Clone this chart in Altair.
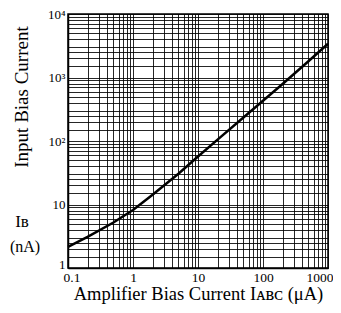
import altair as alt
import pandas as pd

# curve data
amp_current = [0.1, 0.2, 0.5, 1, 2, 5, 10, 20, 50, 100, 200, 500, 1000]
bias_current = [2.15, 3.1, 5.2, 8.2, 14.2, 30.5, 57, 105, 235, 430, 790, 1800, 3400]

x_grid = [0.1, 0.2, 0.3, 0.4, 0.5, 0.6, 0.7, 0.8, 0.9,
          1, 2, 3, 4, 5, 6, 7, 8, 9, 10, 20, 30, 40, 50, 60, 70, 80, 90,
          100, 200, 300, 400, 500, 600, 700, 800, 900, 1000]
y_grid = [1, 1.5, 2, 2.5, 3, 4, 5, 6, 7, 8, 9,
          10, 15, 20, 25, 30, 40, 50, 60, 70, 80, 90,
          100, 150, 200, 250, 300, 400, 500, 600, 700, 800, 900,
          1000, 1500, 2000, 2500, 3000, 4000, 5000, 6000, 7000, 8000, 9000, 10000]

FONT = "Liberation Serif"

df = pd.DataFrame({"x": amp_current, "y": bias_current})

x_label_expr = ("datum.value == 0.1 ? '0.1' : datum.value == 1 ? '1' : datum.value == 10 ? '10' : "
                "datum.value == 100 ? '100' : datum.value == 1000 ? '1000' : ''")
y_label_expr = ("datum.value == 1 ? '1' : datum.value == 10 ? '10' : datum.value == 100 ? '10²' : "
                "datum.value == 1000 ? '10³' : datum.value == 10000 ? '10⁴' : ''")

xscale = alt.Scale(type="log", domain=[0.1, 1000], nice=False)
yscale = alt.Scale(type="log", domain=[1, 10000], nice=False)

line = alt.Chart(df).mark_line(color="black", strokeWidth=2.5).encode(
    x=alt.X("x:Q", scale=xscale,
            axis=alt.Axis(values=x_grid, labelExpr=x_label_expr, grid=True,
                          gridColor="black", gridOpacity=0.85, gridWidth=1,
                          ticks=False, domainColor="black", domainWidth=1.5,
                          labelFont=FONT, labelFontSize=13.5, labelColor="black",
                          labelPadding=2, labelFlush=True, labelFlushOffset=5,
                          labelOverlap=False,
                          title="Amplifier Bias Current  Iᴀʙᴄ  (μA)",
                          titleFont=FONT, titleFontSize=18.5, titleFontWeight="normal",
                          titleColor="black", titlePadding=1)),
    y=alt.Y("y:Q", scale=yscale,
            axis=alt.Axis(values=y_grid, labelExpr=y_label_expr, grid=True,
                          gridColor="black", gridOpacity=0.85, gridWidth=1,
                          ticks=False, domainColor="black", domainWidth=1.5,
                          labelFont=FONT, labelFontSize=13, labelColor="black",
                          labelBaseline=alt.condition("datum.value == 1", alt.value("alphabetic"), alt.value("middle")),
                          labelPadding=3, labelFlush=False, labelOverlap=False, title=None)),
)

ytitle = alt.Chart(pd.DataFrame({"t": ["Input Bias Current"]})).mark_text(
    font=FONT, fontSize=19, angle=270, color="black", align="center", baseline="middle"
).encode(x=alt.value(-46), y=alt.value(83), text="t:N")

ib = alt.Chart(pd.DataFrame({"t": ["Iʙ"]})).mark_text(
    font=FONT, fontSize=17, color="black", align="center", baseline="middle"
).encode(x=alt.value(-46), y=alt.value(208), text="t:N")

na = alt.Chart(pd.DataFrame({"t": ["(nA)"]})).mark_text(
    font=FONT, fontSize=16, color="black", align="center", baseline="middle"
).encode(x=alt.value(-43), y=alt.value(233), text="t:N")

chart = alt.layer(line, ytitle, ib, na).properties(
    width=260, height=254,
    autosize=alt.AutoSizeParams(type="none"),
    padding={"left": 60, "top": 6, "right": 5, "bottom": 37},
).configure_view(stroke="black", strokeWidth=1.5)

chart.save("out.html", embed_options={"renderer": "svg", "actions": False})
